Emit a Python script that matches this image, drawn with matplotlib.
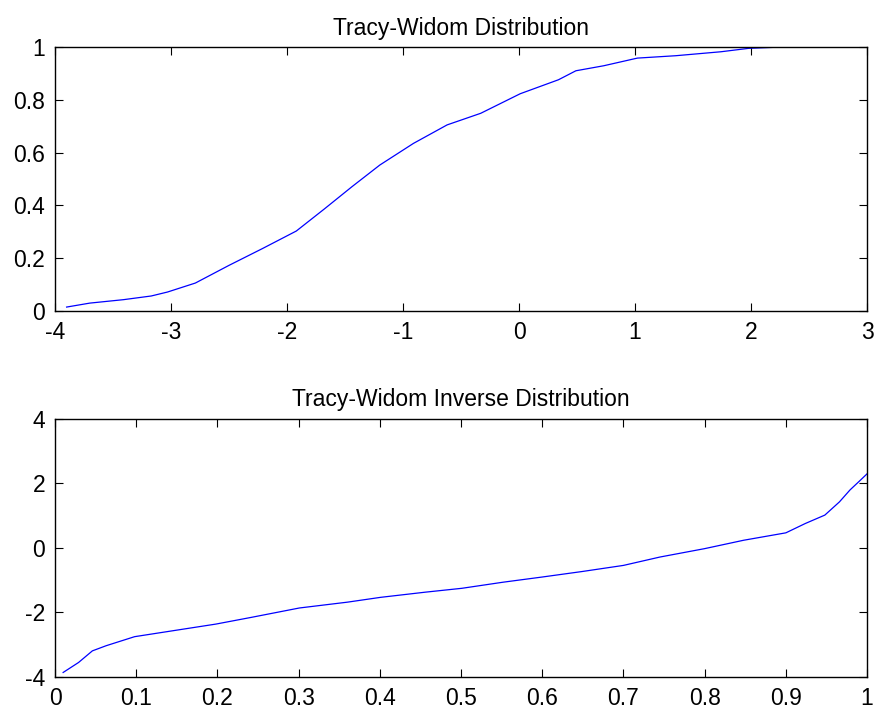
import numpy as np
import matplotlib.pyplot as plt

plt.rcParams['font.family'] = ['Liberation Sans', 'DejaVu Sans']
plt.rcParams['axes.unicode_minus'] = False

# Tracy-Widom CDF
cdf_x = [-3.90, -3.70, -3.41, -3.17, -3.03, -2.79, -2.50, -2.21, -1.92, -1.68,
         -1.44, -1.20, -0.91, -0.62, -0.33, 0.01, 0.34, 0.49, 0.73, 1.02,
         1.35, 1.74, 1.98, 2.27]
cdf_y = [0.015, 0.030, 0.043, 0.057, 0.072, 0.106, 0.173, 0.237, 0.303, 0.386,
         0.471, 0.553, 0.635, 0.705, 0.749, 0.823, 0.876, 0.910, 0.929, 0.958,
         0.967, 0.982, 0.995, 1.000]

# inverse distribution
inv_p = [0.010, 0.029, 0.046, 0.063, 0.098, 0.139, 0.198, 0.242, 0.301, 0.360,
         0.401, 0.456, 0.501, 0.552, 0.600, 0.649, 0.700, 0.745, 0.800, 0.848,
         0.900, 0.924, 0.948, 0.966, 0.979, 0.990, 1.000]
inv_x = [-3.86, -3.55, -3.19, -3.03, -2.75, -2.59, -2.36, -2.15, -1.86, -1.68,
         -1.53, -1.37, -1.25, -1.06, -0.90, -0.73, -0.54, -0.28, -0.02, 0.24,
         0.47, 0.76, 1.02, 1.43, 1.80, 2.06, 2.30]

fig = plt.figure(figsize=(8.76, 7.08), dpi=100)
ax1 = fig.add_axes([0.0628, 0.5607, 0.927, 0.3729])
ax2 = fig.add_axes([0.0628, 0.0438, 0.927, 0.3644])

def matlab_style(ax):
    ax.tick_params(direction='in', top=True, right=True, length=6,
                   width=0.8, labelsize=16.5, pad=7)
    for s in ax.spines.values():
        s.set_linewidth(1.0)

ax1.plot(cdf_x, cdf_y, color='#0000ff', lw=0.9)
ax1.set_xlim(-4, 3)
ax1.set_ylim(0, 1)
ax1.set_xticks(range(-4, 4))
ax1.set_yticks([0, 0.2, 0.4, 0.6, 0.8, 1])
ax1.set_yticklabels(['0', '0.2', '0.4', '0.6', '0.8', '1'])
ax1.set_title('Tracy-Widom Distribution', fontsize=16.5, pad=9)
matlab_style(ax1)

ax2.plot(inv_p, inv_x, color='#0000ff', lw=0.9)
ax2.set_xlim(0, 1)
ax2.set_ylim(-4, 4)
ax2.set_xticks(np.arange(0, 1.01, 0.1))
ax2.set_xticklabels(['0', '0.1', '0.2', '0.3', '0.4', '0.5', '0.6', '0.7', '0.8', '0.9', '1'])
ax2.set_yticks([-4, -2, 0, 2, 4])
ax2.set_title('Tracy-Widom Inverse Distribution', fontsize=16.5, pad=9)
matlab_style(ax2)

fig.savefig('out.png', dpi=100)
